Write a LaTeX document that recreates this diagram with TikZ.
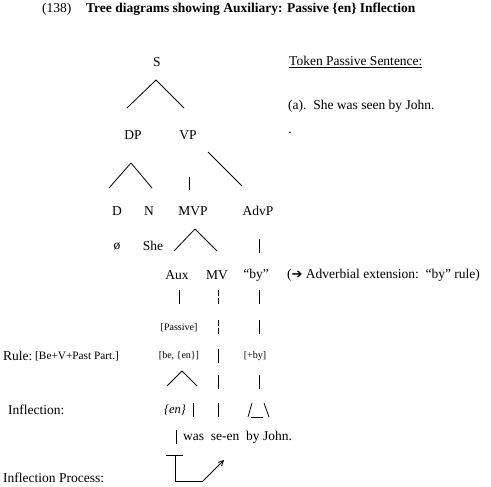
\documentclass[tikz,border=0pt]{standalone}
\usepackage{fontspec}
\setmainfont{Liberation Serif}
\newfontfamily\symfont{DejaVu Sans}
\usetikzlibrary{arrows.meta,calc}
\begin{document}
\begin{tikzpicture}[x=1pt,y=-1pt,
  lbl/.style={inner sep=0pt,font=\fontsize{13.5}{15}\selectfont},
  sml/.style={inner sep=0pt,font=\fontsize{10}{12}\selectfont},
  edge/.style={line width=0.8pt},
  bar/.style={line width=0.8pt}]
\useasboundingbox[fill=white] (0,0) rectangle (491,487);
% title
\node[lbl,anchor=west] (num) at (42,9) {(138)};
\node[lbl,anchor=west,font=\fontsize{13.5}{15}\selectfont\bfseries] (title) at (86,9) {Tree diagrams showing Auxiliary: Passive \{en\} Inflection};
% right notes
\node[lbl,anchor=west] (tok) at (289,62) {\underline{Token Passive Sentence:}};
\node[lbl,anchor=west] (ex) at (288,106) {(a).\ \ She was seen by John.};
\node[lbl] (dot) at (290,133) {.};
% tree
\node[lbl] (S) at (157,62) {S};
\node[lbl] (DP) at (133,135) {DP};
\node[lbl] (VP) at (188,135) {VP};
\node[lbl] (D) at (117,211) {D};
\node[lbl] (N) at (149,211) {N};
\node[lbl] (MVP) at (193,211) {MVP};
\node[lbl] (AdvP) at (258,211) {AdvP};
\node[lbl] (null) at (117,246) {ø};
\node[lbl] (She) at (153,246) {She};
\node[lbl] (Aux) at (177,275) {Aux};
\node[lbl] (MV) at (217,275) {MV};
\node[lbl] (by) at (256,275) {“by”};
\node[lbl,anchor=west] (adv) at (287,275) {({\symfont\fontsize{13}{15}\selectfont ➔} Adverbial extension:\ \ “by” rule)};
\node[sml] (Pass) at (179,328) {[Passive]};
\node[lbl,anchor=west] (rule) at (3,356) {Rule:};
\node[sml,anchor=west,font=\fontsize{11.3}{13}\selectfont] (bvp) at (35,356) {[Be+V+Past Part.]};
\node[sml] (been) at (179,356) {[be, \{en\}]};
\node[sml] (plusby) at (255,356) {[+by]};
\node[lbl,anchor=west] (infl) at (8,410) {Inflection:};
\node[lbl,font=\fontsize{12.5}{14}\selectfont\itshape] (en) at (175,410) {\{en\}};
\node[lbl,anchor=west] (words) at (183,437) {was\ \ se-en\ \ by John.};
\node[lbl,anchor=west] (proc) at (3,478) {Inflection Process:};
% branches
\draw[edge] ($(S)+(-1,18)$) -- ($(DP)+(-6,-27)$);
\draw[edge] ($(S)+(-1,18)$) -- ($(VP)+(-4,-27)$);
\draw[edge] ($(DP)+(-2,28)$) -- ($(D)+(-8,-23)$);
\draw[edge] ($(DP)+(-2,28)$) -- ($(N)+(3,-23)$);
\draw[bar] ($(VP)+(1,42)$) -- ($(MVP)+(-4,-21)$);
\draw[edge] ($(VP)+(20,17)$) -- ($(AdvP)+(-16,-25)$);
\draw[edge] ($(MVP)+(2,18)$) -- ($(Aux)+(-3,-24)$);
\draw[edge] ($(MVP)+(2,18)$) -- ($(MV)+(0,-24)$);
\draw[bar] ($(AdvP)+(1,28)$) -- ($(by)+(3,-22)$);
% vertical chains
\draw[bar] ($(Aux)+(2,15)$) -- ($(Aux)+(2,29)$);
\draw[bar] ($(MV)+(1,15)$) -- ($(MV)+(1,21)$);
\draw[bar] ($(MV)+(1,23)$) -- ($(MV)+(1,29)$);
\draw[bar] ($(by)+(3,15)$) -- ($(by)+(3,29)$);
\draw[bar] ($(MV)+(1,45)$) -- ($(MV)+(1,51)$);
\draw[bar] ($(MV)+(1,53)$) -- ($(MV)+(1,59)$);
\draw[bar] ($(by)+(3,45)$) -- ($(by)+(3,59)$);
\draw[bar] ($(MV)+(1,74)$) -- ($(MV)+(1,88)$);
\draw[edge] ($(been)+(3,15)$) -- ($(en)+(-8,-24)$);
\draw[edge] ($(been)+(3,15)$) -- ($(en)+(22,-24)$);
\draw[bar] ($(MV)+(1,100)$) -- ($(MV)+(1,114)$);
\draw[bar] ($(by)+(3,100)$) -- ($(by)+(3,114)$);
\draw[bar] ($(en)+(18,-7)$) -- ($(en)+(18,7)$);
\draw[bar] ($(MV)+(1,128)$) -- ($(MV)+(1,142)$);
% /_\ under by
\draw[bar] ($(by)+(-8,142)$) -- ($(by)+(-4,128)$);
\draw[bar] ($(by)+(-5,142)$) -- ($(by)+(7,142)$);
\draw[bar] ($(by)+(8,128)$) -- ($(by)+(13,142)$);
% bar before "was"
\draw[bar] ($(words.west)+(-7,-7)$) -- ($(words.west)+(-7,7)$);
% inflection process
\coordinate (tl) at ($(words.west)+(-17,18)$);
\coordinate (tr) at ($(words.west)+(0,18)$);
\coordinate (tm) at ($(words.west)+(-8,18)$);
\coordinate (bm) at ($(words.west)+(-8,44)$);
\coordinate (br) at ($(words.west)+(20,44)$);
\coordinate (ae) at ($(words.west)+(41,23)$);
\draw[bar] (tl) -- (tr);
\draw[bar] (tm) -- (bm) -- (br);
\draw[bar,-{Straight Barb[length=5pt,width=5pt]}] (br) -- (ae);
\end{tikzpicture}
\end{document}
